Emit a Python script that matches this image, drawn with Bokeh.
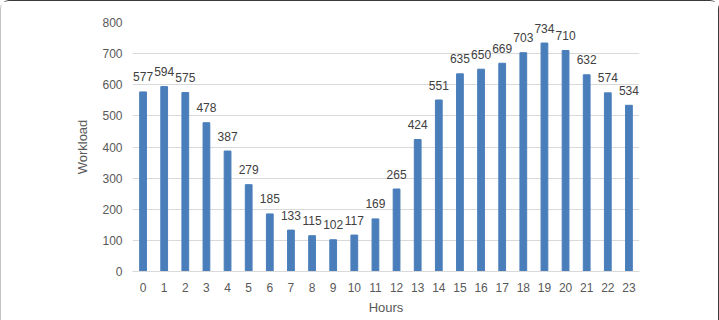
from bokeh.plotting import figure
from bokeh.models import ColumnDataSource, Range1d, FixedTicker
from bokeh.core.properties import value
from bokeh.embed import file_html
from bokeh.resources import INLINE

# Hourly workload
hours = list(range(24))
workload = [577, 594, 575, 478, 387, 279, 185, 133, 115, 102, 117, 169,
            265, 424, 551, 635, 650, 669, 703, 734, 710, 632, 574, 534]
y_ticks = [0, 100, 200, 300, 400, 500, 600, 700, 800]

FONT = "Liberation Sans"
BAR = "#4a7ebb"
GRID = "#d9d9d9"
AXIS_TXT = "#595959"

src = ColumnDataSource(dict(
    x=hours,
    top=workload,
    label=[str(v) for v in workload],
))

p = figure(
    width=719, height=320,
    x_range=Range1d(-0.5, 23.5), y_range=Range1d(0, 800),
    output_backend="svg", toolbar_location=None,
    min_border_left=131, min_border_right=81,
    min_border_top=21, min_border_bottom=50,
)
p.styles = {
    "box-sizing": "border-box",
    "border-top": "1px solid #3a3a3a",
    "border-right": "1px solid #3a3a3a",
    "border-left": "1px solid #c4c4c4",
    "border-top-left-radius": "9px",
    "border-top-right-radius": "9px",
}
p.outline_line_color = None
p.background_fill_color = "white"
p.border_fill_color = "white"

p.vbar(x="x", top="top", width=0.32, source=src, color=BAR)
p.text(x="x", y="top", text="label", source=src,
       text_align="center", text_baseline="middle", y_offset=-15,
       text_font=value(FONT), text_font_size="12px", text_color="#404040")

# axes
p.xaxis.ticker = FixedTicker(ticks=hours)
p.yaxis.ticker = FixedTicker(ticks=y_ticks)
p.xaxis.axis_label = "Hours"
p.yaxis.axis_label = "Workload"
for ax in (p.xaxis, p.yaxis):
    ax.major_tick_line_color = None
    ax.minor_tick_line_color = None
    ax.major_label_text_font = FONT
    ax.major_label_text_font_size = "12px"
    ax.major_label_text_color = AXIS_TXT
    ax.axis_label_text_font = FONT
    ax.axis_label_text_font_size = "13px"
    ax.axis_label_text_font_style = "normal"
    ax.axis_label_text_color = AXIS_TXT
p.yaxis.axis_line_color = None
p.yaxis.major_label_standoff = 4
p.yaxis.axis_label_standoff = 9
p.xaxis.axis_line_color = GRID
p.xaxis.major_label_standoff = 5
p.xaxis.axis_label_standoff = 5

p.xgrid.grid_line_color = None
p.ygrid.grid_line_color = GRID

open("out.html", "w").write(file_html(p, INLINE))
